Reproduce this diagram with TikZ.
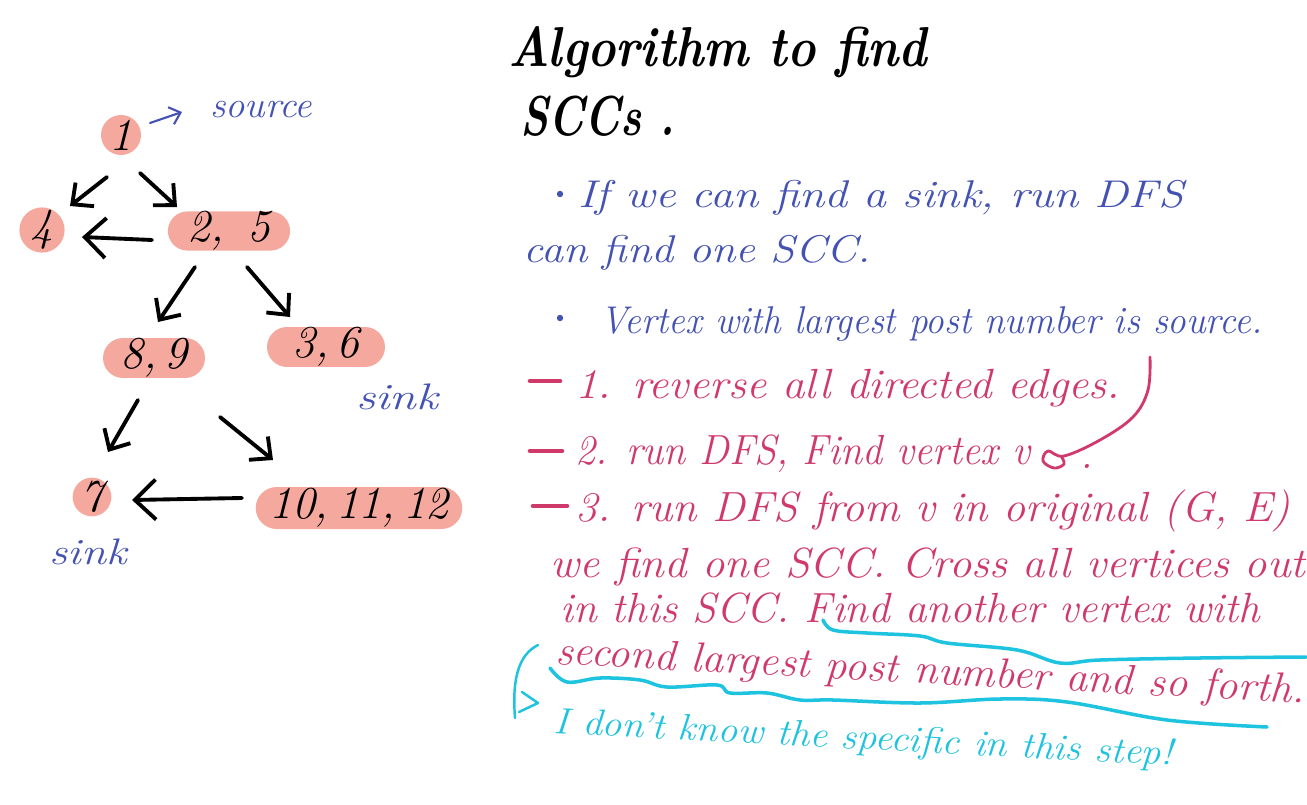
\documentclass[tikz,border=0pt]{standalone}
\usetikzlibrary{arrows.meta,shapes.misc,calc}
\definecolor{pinkfill}{HTML}{F5A99E}
\definecolor{inkblue}{HTML}{4352B3}
\definecolor{inkred}{HTML}{D03A6B}
\definecolor{inkcyan}{HTML}{1EC3DF}
\newcommand\hw[2]{\resizebox{#1}{\height}{#2}}
\begin{document}
\begin{tikzpicture}[x=0.02cm,y=-0.02cm,
  vtx/.style={fill=pinkfill, draw=none, inner sep=0pt, font=\fontsize{26}{28}\selectfont\itshape},
  rvtx/.style={vtx, rounded rectangle},
  cvtx/.style={vtx, circle},
  edge/.style={line width=2.2pt, line cap=round, line join=round, -{Straight Barb[length=0.32cm,width=0.6cm]}},
  bigedge/.style={edge, -{Straight Barb[length=0.42cm,width=0.8cm]}},
  blab/.style={text=inkblue, inner sep=0pt, font=\fontsize{21}{24}\selectfont\itshape},
  bline/.style={text=inkblue, inner sep=0pt, anchor=base west, font=\fontsize{22}{26}\selectfont\itshape},
  rline/.style={text=inkred, inner sep=0pt, anchor=base west, font=\fontsize{24}{28}\selectfont\itshape},
  cline/.style={text=inkcyan, inner sep=0pt, anchor=base west, font=\fontsize{21}{24}\selectfont\itshape},
  tline/.style={text=black, inner sep=0pt, anchor=base west, font=\fontsize{32}{36}\selectfont\bfseries\itshape},
  rdash/.style={draw=inkred, line width=2.6pt, line cap=round},
  cyanink/.style={draw=inkcyan, line width=2pt, line cap=round, line join=round}
]
\fill[white] (0,0) rectangle (1307,804);
\useasboundingbox (0,0) rectangle (1307,804);

% ---------- graph ----------
\node[cvtx, minimum size=0.8cm] (n1) at (121,135) {1};
\node[cvtx, minimum size=0.76cm] (n4) at (42,230) {4};
\node[rvtx, minimum width=2.44cm, minimum height=0.68cm] (n25) at (229,231) {2,\, 5};
\node[rvtx, minimum width=2.04cm, minimum height=0.8cm] (n89) at (154,358) {8,\,9};
\node[rvtx, minimum width=2.36cm, minimum height=0.8cm] (n36) at (326,347) {3,\,6};
\node[cvtx, minimum size=0.76cm] (n7) at (92,497) {7};
\node[rvtx, minimum width=3.8cm, minimum height=0.84cm] (n1012) at (359,508) {10,\,11,\,12};

\draw[edge] ($(n1)+(-14,42)$) -- ($(n4)+(28,-24)$);
\draw[edge] ($(n1)+(19,38)$) -- ($(n25)+(-52,-24)$);
\draw[bigedge] ($(n25)+(-77,9)$) -- ($(n4)+(40,7)$);
\draw[edge] ($(n25)+(-34,36)$) -- ($(n89)+(4,-36)$);
\draw[edge] ($(n25)+(18,36)$) -- ($(n36)+(-36,-30)$);
\draw[edge] ($(n89)+(-16,42)$) -- ($(n7)+(16,-45)$);
\draw[edge] ($(n89)+(66,59)$) -- ($(n1012)+(-86,-48)$);
\draw[bigedge] ($(n1012)+(-117,-10)$) -- ($(n7)+(40,3)$);

\node[blab] (src) at (261,110) {\hw{2.04cm}{source}};
\draw[draw=inkblue, line width=1.2pt, line cap=round, -{Straight Barb[length=0.2cm,width=0.36cm]}]
  ($(n1)+(29,-12)$) -- ($(src)+(-79,2)$);
\node[blab] (s36) at (397,397) {\hw{1.64cm}{sink}};
\node[blab] (s7) at (88,552) {\hw{1.54cm}{sink}};

% ---------- title ----------
\node[tline] (t1) at (508,67) {\hw{8.38cm}{Algorithm to find}};
\node[tline] (t2) at (520,136) {\hw{3.1cm}{SCCs~.}};

% ---------- blue notes ----------
\fill[inkblue] (560,194) circle (3.2);
\node[bline] (b1) at (578,208) {\hw{12.1cm}{If we can find a sink, run DFS}};
\node[bline] (b2) at (523,262) {\hw{6.94cm}{can find one SCC.}};
\fill[inkblue] (560,318) circle (3.2);
\node[bline] (b3) at (600,333) {\hw{13.24cm}{Vertex with largest post number is source.}};

% ---------- red steps ----------
\draw[rdash] (530,381) -- (560,381);
\node[rline] (r1) at (575,398) {\hw{10.9cm}{1. reverse all directed edges.}};
\draw[rdash] (530,451) -- (562,451);
\node[rline] (r2) at (575,464) {\hw{9.1cm}{2. run DFS, Find vertex v}};
\node[rline] (r2p) at (1080,468) {.};
\draw[inkred, line width=1.6pt, line cap=round, line join=round]
  plot[smooth, tension=0.6] coordinates {(1150,357) (1148,390) (1133,417) (1100,440) (1064,456) (1048,451) (1043,461) (1054,468) (1064,464) (1061,456)};
\draw[rdash] (533,506) -- (567,506);
\node[rline] (r3) at (575,521) {\hw{14.3cm}{3. run DFS from v in original (G, E)}};
\node[rline] (r4) at (550,577) {\hw{15.1cm}{we find one SCC. Cross all vertices out}};
\node[rline] (r5) at (560,622) {\hw{14.0cm}{in this SCC. Find another vertex with}};
\node[rline, rotate=-3] (r6) at (555,664) {\hw{15.0cm}{second largest post number and so forth.}};

% ---------- cyan remarks ----------
\draw[cyanink] plot[smooth, tension=0.6] coordinates {(823,620) (833,630) (867,633) (920,636) (947,643) (1017,650) (1060,663) (1100,660) (1200,658) (1306,657)};
\draw[cyanink] plot[smooth, tension=0.6] coordinates {(550,668) (567,682) (600,678) (640,680) (667,687) (717,685) (730,693) (767,693) (800,700) (833,700) (920,703) (1000,699) (1067,702) (1167,720) (1267,727)};
\draw[cyanink, line width=1.4pt] (538,645) .. controls (518,655) and (512,680) .. (515,718);
\draw[cyanink, line width=1.4pt] (522,692) -- (538,703) -- (519,712);
\node[cline, rotate=-3] (c1) at (553,733) {\hw{12.4cm}{I don't know the specific in this step!}};
\end{tikzpicture}
\end{document}
